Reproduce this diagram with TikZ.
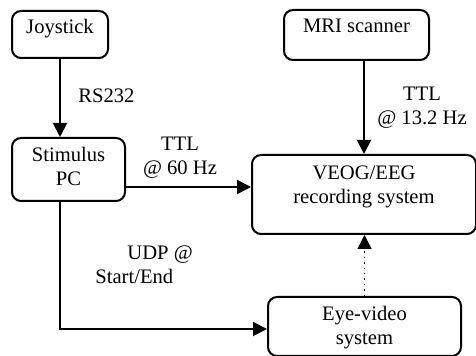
\documentclass[tikz,border=0pt]{standalone}
\usepackage{fontspec}
\setmainfont{Liberation Serif}
\usetikzlibrary{arrows.meta}
\tikzset{
	every node/.style={font=\fontsize{10.3}{12}\selectfont},
	box/.style={draw, rounded corners=4.5pt, line width=1pt, inner sep=0pt, anchor=north west, align=center},
	conn/.style={line width=1pt, -{Triangle[length=7pt, width=7pt]}},
	dotconn/.style={line width=0.7pt, dotted, -{Triangle[length=7pt, width=7pt]}},
	lbl/.style={inner sep=0pt, anchor=base}
}
\begin{document}
\begin{tikzpicture}[x=0.5pt, y=-0.5pt]
	%%%%% START %%%%%
	\useasboundingbox (0,0) rectangle (476,356);
	
	\node[box, minimum width=48pt, text height=11.5pt, text depth=12pt] (joy) at (11,10) {Joystick};
	\node[box, minimum width=56.5pt, text height=24pt, text depth=7.5pt] (stim) at (11,137) {Stimulus\\PC};
	\node[box, minimum width=72.5pt, text height=11.5pt, text depth=13.5pt] (mri) at (283,9) {MRI scanner};
	\node[box, minimum width=112pt, text height=24.5pt, text depth=15pt] (veog) at (251,154) {VEOG/EEG\\recording system};
	\node[box, minimum width=96.5pt, text height=24pt, text depth=5.5pt] (eye) at (267,296) {Eye-video\\system};
	
	\coordinate (ttlrow) at (0,187);
	\coordinate (udprow) at (0,329);
	
	\draw[conn] (joy.south) -- (joy.south |- stim.north);
	\draw[conn] (mri.south -| veog.north) -- (veog.north);
	\draw[conn] (stim.east |- ttlrow) -- (veog.west |- ttlrow);
	\draw[conn] (joy.south |- stim.south) -- (joy.south |- udprow) -- (eye.west |- udprow);
	\draw[dotconn] (eye.north) -- (eye.north |- veog.south);
	
	\node[lbl, anchor=base west] (rs) at (78,103) {RS232};
	\node[lbl, align=center] (ttlstim) at (180,175) {TTL\\@ 60 Hz};
	\node[lbl, align=center] (ttlmri) at (422,125) {TTL\\@ 13.2 Hz};
	\node[lbl, anchor=base west, align=left] (udp) at (95,284) {\hspace*{16pt}UDP @\\Start/End};
	
	%%%%% END %%%%%
\end{tikzpicture}
\end{document}
